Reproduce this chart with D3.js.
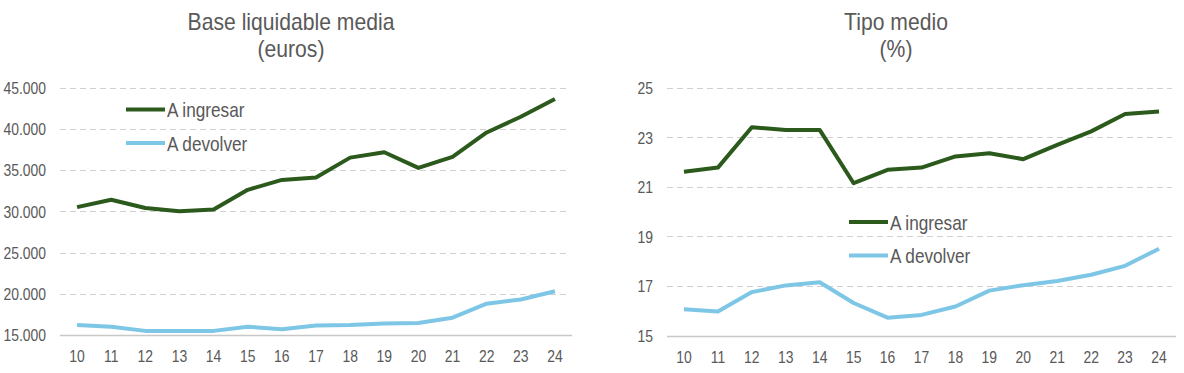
<!DOCTYPE html>
<html>
<head>
<meta charset="utf-8">
<script src="https://cdn.jsdelivr.net/npm/d3@7"></script>
<style>
    body { margin: 0; background: #fff; }
    svg text { font-family: "Liberation Sans", Arial, sans-serif; fill: #595959; }
</style>
</head>
<body>
<svg id="chart"></svg>
<script>
var years = ["10", "11", "12", "13", "14", "15", "16", "17", "18", "19", "20", "21", "22", "23", "24"];
var seriesNames = ["A ingresar", "A devolver"];

// base liquidable media (euros)
var baseIngresar = [30500, 31400, 30400, 30000, 30200, 32600, 33800, 34100, 36500, 37150, 35250, 36600, 39550, 41450, 43600];
var baseDevolver = [16200, 16000, 15500, 15500, 15500, 16000, 15700, 16150, 16200, 16400, 16450, 17100, 18800, 19300, 20300];
var baseTicks = [15000, 20000, 25000, 30000, 35000, 40000, 45000];

// tipo medio (%)
var tipoIngresar = [21.6, 21.77, 23.4, 23.29, 23.29, 21.14, 21.68, 21.77, 22.22, 22.35, 22.11, 22.69, 23.23, 23.93, 24.03];
var tipoDevolver = [16.06, 15.97, 16.75, 17.02, 17.15, 16.31, 15.72, 15.83, 16.17, 16.81, 17.03, 17.2, 17.45, 17.81, 18.5];
var tipoTicks = [15, 17, 19, 21, 23, 25];

const colors = ["#2b5a1c", "#7ec6e6"];
// no narrow font installed, squeeze the regular one instead
const narrow = 0.82;

const svg = d3.select("#chart")
    .attr("width", 1184)
    .attr("height", 373);

const fmtThousands = d3.formatLocale({decimal: ",", thousands: ".", grouping: [3], currency: ["", "€"]}).format(",.0f");

function drawPanel(opts) {
    const g = svg.append("g");

    const x = d3.scaleBand()
        .domain(years)
        .range([opts.left, opts.right]);

    const y = d3.scaleLinear()
        .domain(opts.domain)
        .range([opts.bottom, opts.top]);

    // titles
    g.selectAll(".title")
        .data(opts.title)
        .enter()
        .append("text")
        .attr("transform", (d, i) => `translate(${opts.titleX} ${30 + i * 27}) scale(0.92 1)`)
        .attr("text-anchor", "middle")
        .style("font-size", "23px")
        .text(d => d);

    // gridlines (dashed) and baseline
    g.selectAll(".grid")
        .data(opts.ticks.slice(1))
        .enter()
        .append("line")
        .attr("x1", opts.left)
        .attr("x2", opts.right - 4)
        .attr("y1", d => Math.round(y(d)) + 0.5)
        .attr("y2", d => Math.round(y(d)) + 0.5)
        .style("stroke", "#d0d0d0")
        .style("stroke-width", "1px")
        .style("stroke-dasharray", "6 4");

    g.append("line")
        .attr("x1", opts.left)
        .attr("x2", opts.right)
        .attr("y1", Math.round(y(opts.ticks[0])) + 0.5)
        .attr("y2", Math.round(y(opts.ticks[0])) + 0.5)
        .style("stroke", "#c8c8c8")
        .style("stroke-width", "1.5px");

    // y axis
    const yAxis = g.append("g")
        .attr("transform", `translate(${opts.left} 0)`)
        .call(d3.axisLeft(y).tickValues(opts.ticks).tickSize(0).tickPadding(14 / narrow).tickFormat(opts.fmt));
    yAxis.select(".domain").remove();
    yAxis.selectAll("text")
        .style("font-size", "17px")
        .attr("dy", "0.35em")
        .attr("transform", `scale(${narrow} 1)`);

    // x axis
    const xAxis = g.append("g")
        .attr("transform", `translate(0 ${y(opts.ticks[0])})`)
        .call(d3.axisBottom(x).tickSize(0).tickPadding(15));
    xAxis.select(".domain").remove();
    xAxis.selectAll("text")
        .style("font-size", "17px")
        .attr("transform", `scale(${narrow} 1)`);

    // lines
    const line = d3.line()
        .x((d, i) => x(years[i]) + x.bandwidth() / 2)
        .y(d => y(d));

    g.selectAll(".series")
        .data(opts.series)
        .enter()
        .append("path")
        .attr("d", d => line(d))
        .style("fill", "none")
        .style("stroke", (d, i) => colors[i])
        .style("stroke-width", "4px")
        .style("stroke-linejoin", "round");

    // legend
    const leg = g.selectAll(".legend")
        .data(seriesNames)
        .enter()
        .append("g")
        .attr("transform", (d, i) => `translate(${opts.legendX} ${opts.legendY + i * 33.5})`);

    leg.append("line")
        .attr("x1", 0)
        .attr("x2", 39)
        .style("stroke", (d, i) => colors[i])
        .style("stroke-width", "4px");

    leg.append("text")
        .attr("transform", `translate(41 0) scale(${narrow} 1)`)
        .attr("dy", "0.36em")
        .style("font-size", "21px")
        .text(d => d);
}

drawPanel({
    title: ["Base liquidable media", "(euros)"],
    titleX: 291,
    left: 60, right: 572, top: 87.5, bottom: 335,
    domain: [15000, 45000],
    ticks: baseTicks,
    fmt: fmtThousands,
    series: [baseIngresar, baseDevolver],
    legendX: 126, legendY: 109.5
});

drawPanel({
    title: ["Tipo medio", "(%)"],
    titleX: 896,
    left: 667, right: 1176, top: 87.5, bottom: 335.5,
    domain: [15, 25],
    ticks: tipoTicks,
    fmt: d3.format("d"),
    series: [tipoIngresar, tipoDevolver],
    legendX: 849, legendY: 222
});
</script>
</body>
</html>
